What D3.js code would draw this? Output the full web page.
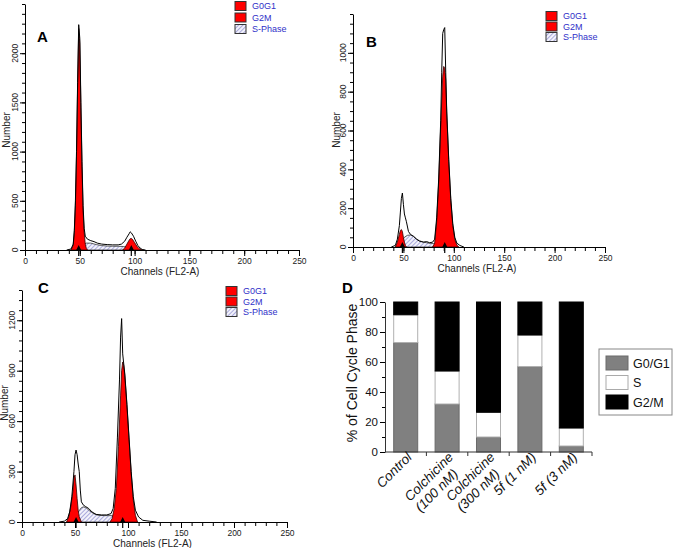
<!DOCTYPE html>
<html><head><meta charset="utf-8">
<script src="https://cdn.jsdelivr.net/npm/d3@7"></script>
<style>body{margin:0;background:#fff}svg{display:block}text{font-family:"Liberation Sans",Arial,sans-serif}</style>
</head><body><svg id="c" width="673" height="548"></svg>
<script>
// ---------- DATA ----------
const channelTicks = [0, 50, 100, 150, 200, 250];
const legendHist = ["G0G1", "G2M", "S-Phase"];

// Panel A (untreated control)
const aYTicks = [0, 500, 1000, 1500, 2000];
const aTotal = [[38,0],[42,10],[44,60],[45,200],[46,500],[47,1000],[48,1700],[49,2290],[50,2150],[51,1500],[52,900],[53,450],[54,220],[55,140],[57,110],[60,95],[63,85],[66,70],[70,60],[75,55],[80,52],[85,52],[88,60],[91,90],[93,130],[95,165],[96,185],[97,175],[99,140],[101,90],[103,45],[105,20],[107,5],[110,0]];
const aG0G1 = [[42,0],[44,50],[45,180],[46,450],[47,950],[48,1650],[49,2250],[50,2100],[51,1450],[52,850],[53,400],[54,180],[55,60],[56,15],[57,0]];
const aG2M = [[89,0],[91,20],[93,60],[95,100],[96,115],[97,118],[98,110],[100,75],[102,40],[104,15],[106,3],[108,0]];
const aS = [[46,0],[48,20],[52,50],[56,70],[60,70],[65,55],[70,45],[75,40],[80,38],[85,38],[90,35],[94,25],[97,10],[99,0]];
const aMarkers = [49, 97];

// Panel B
const bYTicks = [0, 200, 400, 600, 800, 1000];
const bTotal = [[38,0],[42,8],[44,40],[46,110],[47,180],[48,250],[49,278],[50,220],[51,170],[52,150],[53,130],[55,80],[57,65],[60,55],[63,40],[66,30],[70,25],[73,28],[76,22],[79,25],[81,40],[83,150],[85,350],[87,650],[88,900],[89,1100],[90,1120],[91,1130],[92,900],[93,700],[95,450],[97,250],[99,120],[101,50],[103,20],[106,8],[110,0]];
const bG0G1 = [[42,0],[44,25],[46,65],[47,85],[48,90],[49,80],[50,50],[51,25],[52,8],[53,0]];
const bG2M = [[79,0],[81,20],[83,130],[85,330],[87,620],[89,880],[90,930],[91,920],[92,860],[93,690],[95,440],[97,240],[99,110],[101,40],[103,10],[105,0]];
const bS = [[45,0],[48,30],[51,50],[54,60],[57,62],[60,55],[63,42],[66,32],[70,25],[75,20],[80,18],[85,12],[88,5],[90,0]];
const bMarkers = [49, 91];

// Panel C
const cYTicks = [0, 300, 600, 900, 1200];
const cTotal = [[35,0],[40,5],[43,20],[45,60],[47,150],[49,300],[50,400],[51,428],[52,400],[53,345],[54,300],[55,190],[56,120],[58,100],[60,92],[63,80],[66,60],[70,45],[75,42],[80,42],[84,50],[86,80],[88,200],[90,500],[92,850],[93,1100],[94,1210],[95,1000],[96,940],[97,880],[99,700],[101,500],[103,300],[105,150],[107,70],[110,30],[114,10],[120,5],[127,0]];
const cG0G1 = [[42,0],[44,30],[46,90],[48,180],[49,260],[50,280],[51,220],[52,140],[53,70],[54,30],[56,0]];
const cG2M = [[83,0],[85,20],[87,80],[89,200],[91,450],[93,750],[94,900],[95,952],[96,930],[97,870],[99,690],[101,490],[103,290],[105,130],[107,40],[109,0]];
const cS = [[47,0],[50,30],[53,60],[56,85],[58,90],[61,82],[64,65],[68,48],[72,40],[78,38],[84,38],[90,32],[94,20],[97,5],[99,0]];
const cMarkers = [51, 95];

// Panel D (stacked bars, %)
const dCategories = ["Control", "Colchicine|(100 nM)", "Colchicine|(300 nM)", "5f (1 nM)", "5f (3 nM)"];
const dG0G1 = [73, 32, 10, 57, 4];
const dS = [18.5, 22, 16.5, 21, 12];
const dG2M = [8.5, 46, 73.5, 22, 84];
const dYTicks = [0, 20, 40, 60, 80, 100];
const dLegend = ["G0/G1", "S", "G2/M"];

// ---------- DRAW ----------
const FONT = "Liberation Sans, Arial, sans-serif";
const svg = d3.select("#c");
const defs = svg.append("defs");
const pat = defs.append("pattern").attr("id","hatch").attr("patternUnits","userSpaceOnUse")
  .attr("width",3).attr("height",3).attr("patternTransform","rotate(45)");
pat.append("rect").attr("width",3).attr("height",3).attr("fill","#f2f2fb");
pat.append("line").attr("x1",0).attr("y1",0).attr("x2",0).attr("y2",3).attr("stroke","#7a7ac8").attr("stroke-width",1.2);

function hist(p) {
  const g = svg.append("g").attr("font-family",FONT);
  const x = d3.scaleLinear().domain([0,250]).range(p.xr);
  const y = d3.scaleLinear().domain([0,p.ymax]).range(p.yr);
  const area = d3.area().x(d=>x(d[0])).y0(y(0)).y1(d=>y(d[1]));
  const line = d3.line().x(d=>x(d[0])).y(d=>y(d[1]));
  g.append("path").attr("d", area(p.s)).attr("fill","url(#hatch)").attr("stroke","#333").attr("stroke-width",0.8);
  g.append("path").attr("d", area(p.g0)).attr("fill","#ff0000").attr("stroke","#300").attr("stroke-width",0.8);
  g.append("path").attr("d", area(p.g2)).attr("fill","#ff0000").attr("stroke","#300").attr("stroke-width",0.8);
  g.append("path").attr("d", line(p.total)).attr("fill","none").attr("stroke","#000").attr("stroke-width",1);
  const xMinor = d3.range(0,251,10);
  const ax = g.append("g").attr("transform",`translate(0,${p.yr[0]})`);
  ax.call(d3.axisBottom(x).tickValues(xMinor).tickSize(4).tickSizeOuter(0).tickFormat(""));
  ax.append("g").call(d3.axisBottom(x).tickValues(channelTicks).tickSize(6).tickSizeOuter(0).tickPadding(2))
    .call(s=>s.select(".domain").remove())
    .selectAll("text").attr("font-size",8.5).attr("fill","#222").attr("font-family",FONT);
  ax.selectAll("line").attr("stroke","#000");
  const ay = g.append("g").attr("transform",`translate(${p.xr[0]},0)`);
  ay.call(d3.axisLeft(y).tickValues(d3.range(0,p.ymax+1,p.minor)).tickSize(3).tickSizeOuter(0).tickFormat(""));
  ay.append("g").call(d3.axisLeft(y).tickValues(p.yTicks).tickSize(5).tickSizeOuter(0).tickFormat(""))
    .call(s=>s.select(".domain").remove());
  p.yTicks.forEach(t=>{
    g.append("text").attr("transform",`translate(${p.xr[0]-7},${y(t)}) rotate(-90)`)
      .attr("text-anchor","middle").attr("font-size",8.5).attr("fill","#222").text(t);
  });
  p.markers.forEach(m=>{
    g.append("path").attr("d",`M${x(m)-2.5},${p.yr[0]}L${x(m)+2.5},${p.yr[0]}L${x(m)},${p.yr[0]-5}Z`).attr("fill","#000");
    g.append("line").attr("x1",x(m)).attr("x2",x(m)).attr("y1",p.yr[0]).attr("y2",p.yr[0]+6).attr("stroke","#000").attr("stroke-width",1.2);
  });
  g.append("text").attr("x",(p.xr[0]+p.xr[1])/2 - 2).attr("y",p.yr[0]+25).attr("text-anchor","middle")
    .attr("font-size",10).attr("fill","#222").text("Channels (FL2-A)");
  g.append("text").attr("transform",`translate(${p.ylabX},${p.ylabY}) rotate(-90)`).attr("text-anchor","middle")
    .attr("font-size",10).attr("fill","#222").text("Number");
  g.append("text").attr("x",p.lab[0]).attr("y",p.lab[1]).attr("font-size",15).attr("font-weight","bold")
    .attr("font-family","DejaVu Sans, Arial").text(p.label);
  legendHist.forEach((t,i)=>{
    const yy = p.leg[1] + i*p.legStep;
    g.append("rect").attr("x",p.leg[0]).attr("y",yy-4.5).attr("width",11).attr("height",9)
      .attr("fill", i<2 ? "#ff0000" : "url(#hatch)").attr("stroke","#333").attr("stroke-width",1);
    g.append("text").attr("x",p.leg[0]+17).attr("y",yy+3).attr("font-size",9).attr("fill","#3030c8").text(t);
  });
}

hist({xr:[25,299], yr:[250,4], ymax:2500, minor:100, yTicks:aYTicks, total:aTotal, g0:aG0G1, g2:aG2M, s:aS, markers:aMarkers,
  ylabX:10, ylabY:130, lab:[37,42], label:"A", leg:[235,6], legStep:11.5});
hist({xr:[353,605], yr:[247,14], ymax:1200, minor:50, yTicks:bYTicks, total:bTotal, g0:bG0G1, g2:bG2M, s:bS, markers:bMarkers,
  ylabX:340, ylabY:130, lab:[366,47], label:"B", leg:[546,16], legStep:10.5});
hist({xr:[22,287], yr:[522,290], ymax:1380, minor:60, yTicks:cYTicks, total:cTotal, g0:cG0G1, g2:cG2M, s:cS, markers:cMarkers,
  ylabX:8, ylabY:403, lab:[38,293], label:"C", leg:[226,291], legStep:10.5});

// Panel D
(function(){
  const g = svg.append("g").attr("font-family",FONT);
  const x = d3.scaleBand().domain(dCategories).range([385,592]).paddingInner(0.42).paddingOuter(0.21);
  const y = d3.scaleLinear().domain([0,100]).range([452,302]);
  dCategories.forEach((c,i)=>{
    const segs = [[0,dG0G1[i],"#808080","#6a6a6a"],[dG0G1[i],dG0G1[i]+dS[i],"#ffffff","#b0b0b0"],[dG0G1[i]+dS[i],100,"#000000","#000"]];
    segs.forEach(s=>{
      g.append("rect").attr("x",x(c)).attr("width",x.bandwidth()).attr("y",y(s[1])).attr("height",y(s[0])-y(s[1]))
        .attr("fill",s[2]).attr("stroke",s[3]).attr("stroke-width",1);
    });
  });
  const ay = g.append("g").attr("transform","translate(385,0)");
  ay.call(d3.axisLeft(y).tickValues(d3.range(0,101,10)).tickSize(3).tickSizeOuter(0).tickFormat(""));
  ay.append("g").call(d3.axisLeft(y).tickValues(dYTicks).tickSize(5).tickSizeOuter(0).tickPadding(2))
    .call(s=>s.select(".domain").remove())
    .selectAll("text").attr("font-size",11.5).attr("fill","#111").attr("font-family",FONT);
  ay.selectAll(".domain").attr("stroke","#333");
  const ax = g.append("g").attr("transform","translate(0,452)");
  ax.append("line").attr("x1",385).attr("x2",592).attr("stroke","#333");
  const step = x.step();
  d3.range(1,6).forEach(k=>{
    const xx = 385 + k*step;
    ax.append("line").attr("x1",xx).attr("x2",xx).attr("y1",0).attr("y2",4).attr("stroke","#333");
  });
  dCategories.forEach(c=>{
    const cx = x(c)+x.bandwidth()/2;
    const t = g.append("text").attr("transform",`translate(${cx+7},458) rotate(-45)`)
      .attr("font-size",13.5).attr("font-style","italic").attr("fill","#111");
    const lines = c.split("|");
    const spans = lines.map((ln,j)=>t.append("tspan").attr("dy",j?"1.12em":0).text(ln));
    const w = d3.max(spans, s=>s.node().getComputedTextLength());
    spans.forEach(s=>s.attr("x",-w));
  });
  g.append("text").attr("transform","translate(357,373) rotate(-90)").attr("text-anchor","middle")
    .attr("font-size",14).attr("fill","#111").text("% of Cell Cycle Phase");
  g.append("text").attr("x",342).attr("y",293).attr("font-size",15).attr("font-weight","bold")
    .attr("font-family","DejaVu Sans, Arial").text("D");
  g.append("rect").attr("x",599).attr("y",349).attr("width",73).attr("height",66).attr("fill","#fff").attr("stroke","#888");
  const lc = [["#808080","#6a6a6a"],["#fff","#aaa"],["#000","#000"]];
  dLegend.forEach((t,i)=>{
    const yy = 356 + i*19.5;
    g.append("rect").attr("x",606).attr("y",yy).attr("width",22).attr("height",14).attr("fill",lc[i][0]).attr("stroke",lc[i][1]);
    g.append("text").attr("x",633).attr("y",yy+11.5).attr("font-size",12.5).attr("fill","#111").text(t);
  });
})();
</script></body></html>
